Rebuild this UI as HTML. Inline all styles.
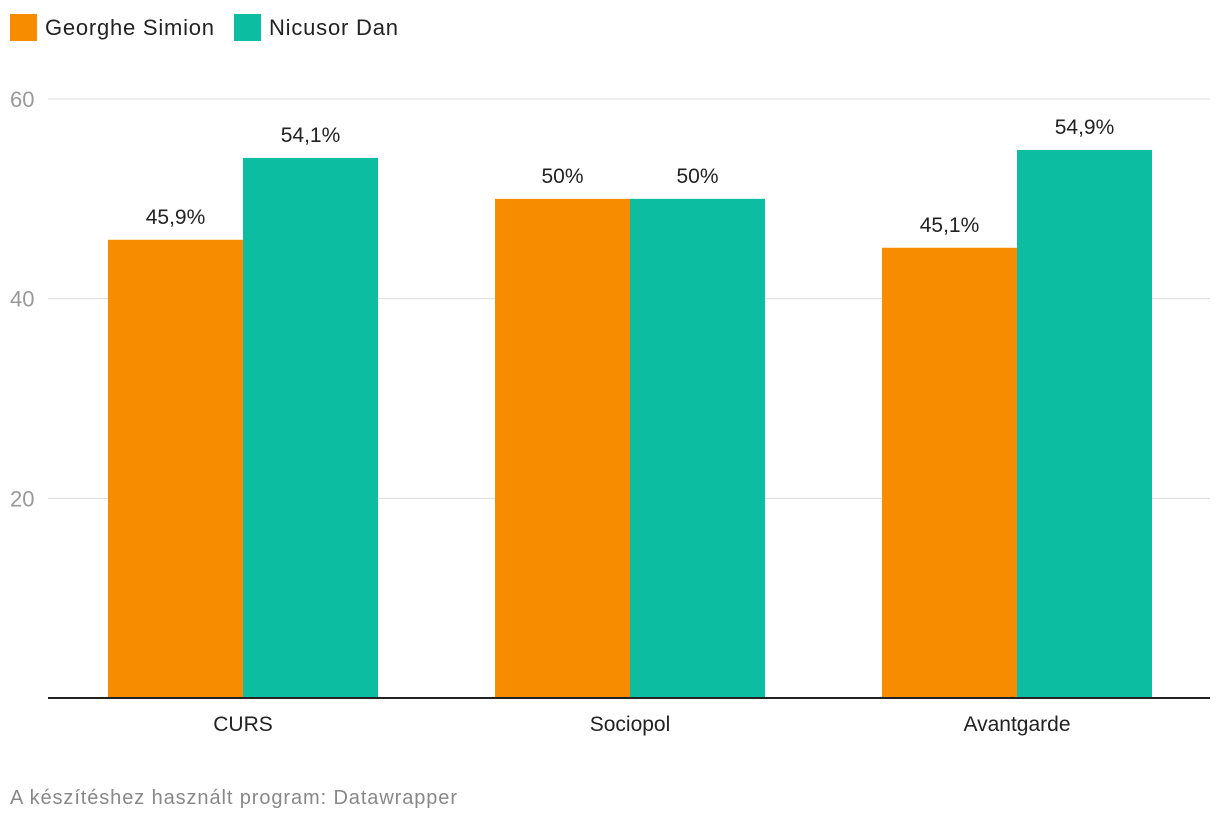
<!DOCTYPE html>
<html><head><meta charset="utf-8"><style>
body{margin:0;width:1220px;height:820px;background:#fff;font-family:"Liberation Sans",sans-serif;overflow:hidden}
svg{display:block}
</style></head><body>
<svg id="chart" width="1220" height="820">
<g>
<rect x="10" y="14" width="27" height="27" fill="#f88c00"/>
<text x="45" y="35" font-size="22" fill="#222" textLength="169">Georghe Simion</text>
<rect x="234" y="14" width="27" height="27" fill="#0cbda1"/>
<text x="269" y="35" font-size="22" fill="#222" textLength="129">Nicusor Dan</text>
</g>
<g id="grid"></g>
<g id="bars"></g>
<line x1="48" x2="1210" y1="698" y2="698" stroke="#222" stroke-width="2"/>
<text x="10" y="804" font-size="20" fill="#888" textLength="447">A készítéshez használt program: Datawrapper</text>
</svg>
<script>
const categories=["CURS","Sociopol","Avantgarde"];
const simion=[45.9,50,45.1];
const dan=[54.1,50,54.9];
const simionLabels=["45,9%","50%","45,1%"];
const danLabels=["54,1%","50%","54,9%"];
const yTicks=[20,40,60];
const NS="http://www.w3.org/2000/svg";
const y=v=>698-v*(599/60);
const cx=i=>243+i*387;
const bw=135;
function mk(t,a,p){const e=document.createElementNS(NS,t);for(const k in a)e.setAttribute(k,a[k]);p.appendChild(e);return e;}
const grid=document.getElementById('grid'),bars=document.getElementById('bars');
yTicks.forEach(t=>{
 const l=mk('line',{x1:48,x2:1210,y1:y(t),y2:y(t),stroke:'#ddd','stroke-width':1},grid);
 
 
 const tx=mk('text',{x:10,y:y(t)+8,'font-size':22,fill:'#999'},grid);tx.textContent=t;
 
 
});
categories.forEach((c,i)=>{
 [[simion,simionLabels,'#f88c00',-bw,'simion'],[dan,danLabels,'#0cbda1',0,'dan']].forEach(([vals,labs,col,off,nm])=>{
  const r=mk('rect',{x:cx(i)+off,y:y(vals[i]),width:bw,height:698-y(vals[i]),fill:col},bars);
  
  
  const t=mk('text',{x:cx(i)+off+bw/2,y:y(vals[i])-16,'font-size':21,fill:'#222','text-anchor':'middle'},bars);t.textContent=labs[i];
  
  
 });
 const xl=mk('text',{x:cx(i),y:731,'font-size':21,fill:'#222','text-anchor':'middle'},bars);xl.textContent=c;
 
 
});
</script>
</body></html>
